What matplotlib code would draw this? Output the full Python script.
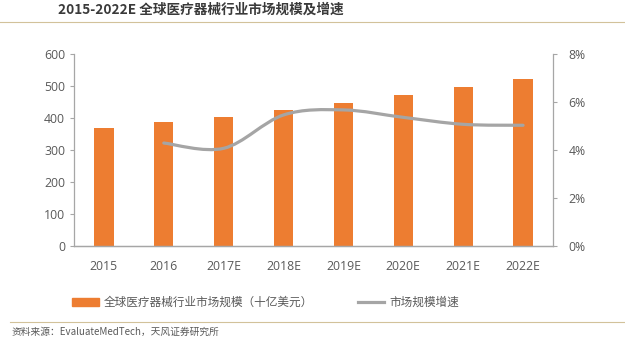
import matplotlib
matplotlib.use("Agg")
import matplotlib.pyplot as plt
from matplotlib.path import Path
from matplotlib.patches import PathPatch, Patch
from matplotlib.lines import Line2D
from matplotlib.ticker import PercentFormatter

plt.rcParams["font.family"] = ["Noto Sans CJK SC", "DejaVu Sans"]

years = ["2015", "2016", "2017E", "2018E", "2019E", "2020E", "2021E", "2022E"]
market_size = [370, 386, 402, 425, 448, 473, 497, 521]   # 十亿美元
growth_years = ["2016", "2017E", "2018E", "2019E", "2020E", "2021E", "2022E"]
growth_rate = [4.29, 4.07, 5.46, 5.67, 5.36, 5.07, 5.03]  # %

ORANGE = "#ED7D31"
GRAY = "#A5A5A5"
AXIS = "#A6A6A6"
TEXT = "#595959"

fig = plt.figure(figsize=(6.25, 3.6), dpi=100)
ax = fig.add_axes([0.1184, 0.3167, 0.7664, 0.5333])
ax2 = ax.twinx()

x = list(range(len(years)))
ax.bar(x, market_size, width=0.32, color=ORANGE, zorder=2)
ax.set_xlim(-0.5, len(years) - 0.5)
ax.set_ylim(0, 600)
ax.set_yticks(range(0, 601, 100))
ax.set_xticks(x)
ax.set_xticklabels(years)

# smoothed growth line (Catmull-Rom through the points, drawn as bezier path)
gx = [years.index(y) for y in growth_years]
pts = list(zip(gx, growth_rate))
verts = [pts[0]]
codes = [Path.MOVETO]
for i in range(len(pts) - 1):
    p0 = pts[i - 1] if i > 0 else pts[i]
    p1, p2 = pts[i], pts[i + 1]
    p3 = pts[i + 2] if i + 2 < len(pts) else pts[i + 1]
    c1 = (p1[0] + (p2[0] - p0[0]) / 6, p1[1] + (p2[1] - p0[1]) / 6)
    c2 = (p2[0] - (p3[0] - p1[0]) / 6, p2[1] - (p3[1] - p1[1]) / 6)
    verts += [c1, c2, p2]
    codes += [Path.CURVE4] * 3
ax2.add_patch(PathPatch(Path(verts, codes), facecolor="none", edgecolor=GRAY,
                        lw=2.3, capstyle="round", zorder=3))
ax2.set_ylim(0, 8)
ax2.set_yticks(range(0, 9, 2))
ax2.yaxis.set_major_formatter(PercentFormatter(decimals=0))

for a in (ax, ax2):
    a.spines["top"].set_visible(False)
    for s in ("left", "right", "bottom"):
        a.spines[s].set_color(AXIS)
        a.spines[s].set_linewidth(0.9)
    a.tick_params(axis="y", colors=AXIS, labelcolor=TEXT, labelsize=8.8,
                  length=3, width=0.8)
ax2.tick_params(axis="y", pad=8)
ax.tick_params(axis="x", length=0, labelcolor=TEXT, labelsize=8.8, pad=10)
ax2.spines["left"].set_visible(False)
ax.spines["right"].set_visible(False)

for lbl in ax.get_xticklabels() + ax.get_yticklabels() + ax2.get_yticklabels():
    lbl.set_family(["Open Sans", "DejaVu Sans"])

# title and rules
fig.text(0.093, 0.972, "2015-2022E 全球医疗器械行业市场规模及增速", fontsize=9.8,
         fontweight="bold", color="#3A3A3A", va="center")
fig.add_artist(Line2D([0, 1], [0.94, 0.94], color="#D2C29A", lw=0.8))
fig.add_artist(Line2D([0.016, 0.998], [0.105, 0.105], color="#D2C29A", lw=0.8))
fig.text(0.018, 0.079, "资料来源：EvaluateMedTech，天风证券研究所", fontsize=7,
         color="#595959", va="center")

handles = [Patch(color=ORANGE), Line2D([], [], color=GRAY, lw=2.3)]
labels = ["全球医疗器械行业市场规模（十亿美元）", "市场规模增速"]
fig.legend(handles, labels, loc="center", bbox_to_anchor=(0.425, 0.16),
           ncol=2, frameon=False, fontsize=8.4, columnspacing=3.8,
           handlelength=2.3, handletextpad=0.4, labelcolor=TEXT)

fig.savefig("out.png", dpi=100, facecolor="white")
